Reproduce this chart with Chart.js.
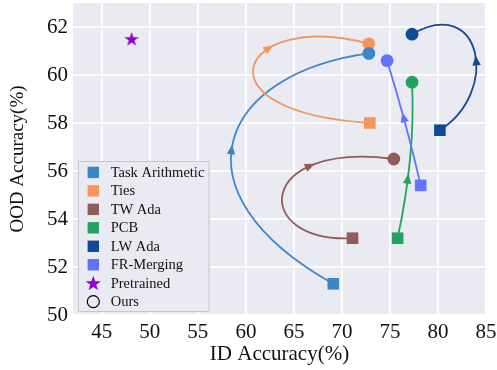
<!DOCTYPE html>
<html>
<head>
<meta charset="utf-8">
<script src="https://cdn.jsdelivr.net/npm/chart.js@4/dist/chart.umd.min.js"></script>
<style>
  html, body { margin: 0; padding: 0; background: #ffffff; }
  #wrap { width: 497px; height: 370px; }
</style>
</head>
<body>
<div id="wrap"><canvas id="chart" width="497" height="370"></canvas></div>
<script>
// ---- data ----
const methods = ['Task Arithmetic', 'Ties', 'TW Ada', 'PCB', 'LW Ada', 'FR-Merging'];
const baselineId  = [69.1, 72.9, 71.1, 75.8, 80.2, 78.2];
const baselineOod = [51.3, 58.0, 53.2, 53.2, 57.7, 55.4];
const oursId  = [72.8, 72.8, 75.4, 77.3, 77.3, 74.7];
const oursOod = [60.9, 61.3, 56.5, 59.7, 61.7, 60.6];
const pretrainedId  = [48.1];
const pretrainedOod = [61.5];
const xTickValues = [45, 50, 55, 60, 65, 70, 75, 80, 85];
const yTickValues = [50, 52, 54, 56, 58, 60, 62];

// ---- styling ----
const FONT = "'Liberation Serif', 'Times New Roman', 'DejaVu Serif', serif";
const TEXT = '#111111';
const methodColors = ['#3b87c9', '#f59660', '#935a5a', '#24a35f', '#124b94', '#6173fb'];
const starColor = '#9400d3';
// shape of each improvement path: control-point offsets (in ID / OOD units)
// from the start and end markers, and where along the path the arrowhead sits
const pathBends = [
  { from: [-17.2, 3.87],  to: [-15.54, -0.84], head: 0.47 },
  { from: [-18.71, 0.46], to: [-13.4, 1.45],   head: 0.65 },
  { from: [-10.66, -0.2], to: [-14.44, 0.79],  head: 0.73 },
  { from: [1.3, 2.43],    to: [0.22, -1.78],   head: 0.35 },
  { from: [6.28, 1.59],   to: [7.3, 1.675],    head: 0.45 },
  { from: [-0.99, 1.725], to: [1.36, -1.77],   head: 0.55 }
];

function traceStar(ctx, cx, cy, outer, inner) {
  ctx.beginPath();
  for (let k = 0; k < 10; k++) {
    const r = k % 2 === 0 ? outer : inner;
    const a = -Math.PI / 2 + k * Math.PI / 5;
    const px = cx + r * Math.cos(a), py = cy + r * Math.sin(a);
    if (k === 0) ctx.moveTo(px, py); else ctx.lineTo(px, py);
  }
  ctx.closePath();
}

const starImg = document.createElement('canvas');
starImg.width = 16; starImg.height = 16;
(function () {
  const c = starImg.getContext('2d');
  c.fillStyle = starColor;
  traceStar(c, 8, 8.6, 7.6, 3.0);
  c.fill();
})();

// ---- datasets ----
const datasets = methods.map((name, i) => ({
  label: name,
  data: [{ x: baselineId[i], y: baselineOod[i] }, { x: oursId[i], y: oursOod[i] }],
  pointStyle: ['rect', 'circle'],
  pointRadius: [8.2, 6.4],
  backgroundColor: methodColors[i],
  borderColor: methodColors[i],
  pointBorderWidth: 0,
  showLine: false
}));
datasets.push({
  label: 'Pretrained',
  data: pretrainedId.map((v, i) => ({ x: v, y: pretrainedOod[i] })),
  pointStyle: starImg,
  pointRadius: 8,
  backgroundColor: starColor,
  borderColor: starColor,
  showLine: false
});

// ---- plugins ----
const plotBackground = {
  id: 'plotBackground',
  beforeDraw(chart) {
    const { ctx, chartArea: a } = chart;
    ctx.save();
    ctx.fillStyle = '#eaeaf2';
    ctx.fillRect(a.left, a.top, a.right - a.left, a.bottom - a.top);
    ctx.restore();
  }
};

function cubicPoint(p, t) {
  const u = 1 - t;
  const b = [u * u * u, 3 * u * u * t, 3 * u * t * t, t * t * t];
  return [
    b[0] * p[0][0] + b[1] * p[1][0] + b[2] * p[2][0] + b[3] * p[3][0],
    b[0] * p[0][1] + b[1] * p[1][1] + b[2] * p[2][1] + b[3] * p[3][1]
  ];
}
function cubicTangent(p, t) {
  const u = 1 - t;
  const d = k => 3 * u * u * (p[1][k] - p[0][k]) + 6 * u * t * (p[2][k] - p[1][k]) + 3 * t * t * (p[3][k] - p[2][k]);
  return [d(0), d(1)];
}

const improvementPaths = {
  id: 'improvementPaths',
  beforeDatasetsDraw(chart) {
    const { ctx } = chart;
    const xs = chart.scales.x, ys = chart.scales.y;
    const P = (x, y) => [xs.getPixelForValue(x), ys.getPixelForValue(y)];
    ctx.save();
    methods.forEach((name, i) => {
      const bend = pathBends[i];
      const pts = [
        P(baselineId[i], baselineOod[i]),
        P(baselineId[i] + bend.from[0], baselineOod[i] + bend.from[1]),
        P(oursId[i] + bend.to[0], oursOod[i] + bend.to[1]),
        P(oursId[i], oursOod[i])
      ];
      ctx.strokeStyle = methodColors[i];
      ctx.fillStyle = methodColors[i];
      ctx.lineWidth = 1.8;
      ctx.beginPath();
      ctx.moveTo(pts[0][0], pts[0][1]);
      ctx.bezierCurveTo(pts[1][0], pts[1][1], pts[2][0], pts[2][1], pts[3][0], pts[3][1]);
      ctx.stroke();

      // arrowhead along the travel direction
      const c = cubicPoint(pts, bend.head);
      const tg = cubicTangent(pts, bend.head);
      const len = Math.hypot(tg[0], tg[1]) || 1;
      const ux = tg[0] / len, uy = tg[1] / len;
      const L = 10, W = 4.2;
      const tip = [c[0] + ux * L / 2, c[1] + uy * L / 2];
      const base = [c[0] - ux * L / 2, c[1] - uy * L / 2];
      ctx.beginPath();
      ctx.moveTo(tip[0], tip[1]);
      ctx.lineTo(base[0] - uy * W, base[1] + ux * W);
      ctx.lineTo(base[0] + uy * W, base[1] - ux * W);
      ctx.closePath();
      ctx.fill();
    });
    ctx.restore();
  }
};

const boxLegend = {
  id: 'boxLegend',
  afterDraw(chart) {
    const { ctx } = chart;
    const left = 78.5, top = 161.5, width = 130.5, height = 150;
    ctx.save();
    ctx.fillStyle = '#eaeaf2';
    ctx.fillRect(left, top, width, height);
    ctx.strokeStyle = '#c6c6cc';
    ctx.lineWidth = 1;
    ctx.strokeRect(left, top, width, height);

    const entries = methods.map((m, i) => ({ label: m, kind: 'square', color: methodColors[i] }));
    entries.push({ label: 'Pretrained', kind: 'star', color: starColor });
    entries.push({ label: 'Ours', kind: 'ring', color: '#000000' });

    ctx.font = '14.5px ' + FONT;
    ctx.textBaseline = 'middle';
    ctx.textAlign = 'left';
    entries.forEach((e, k) => {
      const y = 172.4 + k * 18.47;
      const mx = 93.3;
      if (e.kind === 'square') {
        ctx.fillStyle = e.color;
        ctx.fillRect(mx - 5.7, y - 5.7, 11.4, 11.4);
      } else if (e.kind === 'star') {
        ctx.fillStyle = e.color;
        traceStar(ctx, mx, y + 0.6, 8.0, 3.2);
        ctx.fill();
      } else {
        ctx.strokeStyle = e.color;
        ctx.lineWidth = 1.2;
        ctx.beginPath();
        ctx.arc(mx, y, 6, 0, Math.PI * 2);
        ctx.stroke();
      }
      ctx.fillStyle = TEXT;
      ctx.fillText(e.label, 110.7, y + 0.5);
    });
    ctx.restore();
  }
};

// ---- chart ----
new Chart(document.getElementById('chart'), {
  type: 'scatter',
  data: { datasets },
  plugins: [plotBackground, improvementPaths, boxLegend],
  options: {
    responsive: false,
    animation: false,
    devicePixelRatio: 1,
    events: [],
    layout: { autoPadding: false, padding: { left: 0, right: 11, top: 3, bottom: 0 } },
    plugins: { legend: { display: false }, tooltip: { enabled: false } },
    scales: {
      x: {
        type: 'linear',
        min: 42,
        max: 85,
        afterBuildTicks(s) { s.ticks = xTickValues.map(v => ({ value: v })); },
        afterFit(s) { s.height = 55; s.paddingLeft = 0; s.paddingRight = 0; },
        grid: { color: '#ffffff', lineWidth: 1.8, drawTicks: false },
        border: { display: false },
        ticks: {
          font: { family: FONT, size: 21 },
          color: TEXT,
          padding: 5,
          maxRotation: 0,
          autoSkip: false,
          callback: v => String(v)
        },
        title: {
          display: true,
          text: 'ID Accuracy(%)',
          font: { family: FONT, size: 21 },
          color: TEXT,
          padding: { top: 0, bottom: 3 }
        }
      },
      y: {
        type: 'linear',
        min: 50,
        max: 63,
        afterBuildTicks(s) { s.ticks = yTickValues.map(v => ({ value: v })); },
        afterFit(s) { s.width = 73; s.paddingTop = 0; s.paddingBottom = 0; },
        grid: { color: '#ffffff', lineWidth: 1.8, drawTicks: false },
        border: { display: false },
        ticks: {
          font: { family: FONT, size: 21 },
          color: TEXT,
          padding: 5,
          autoSkip: false,
          callback: v => String(v)
        },
        title: {
          display: true,
          text: 'OOD Accuracy(%)',
          font: { family: FONT, size: 19 },
          color: TEXT,
          padding: { top: 7, bottom: 0 }
        }
      }
    }
  }
});
</script>
</body>
</html>
